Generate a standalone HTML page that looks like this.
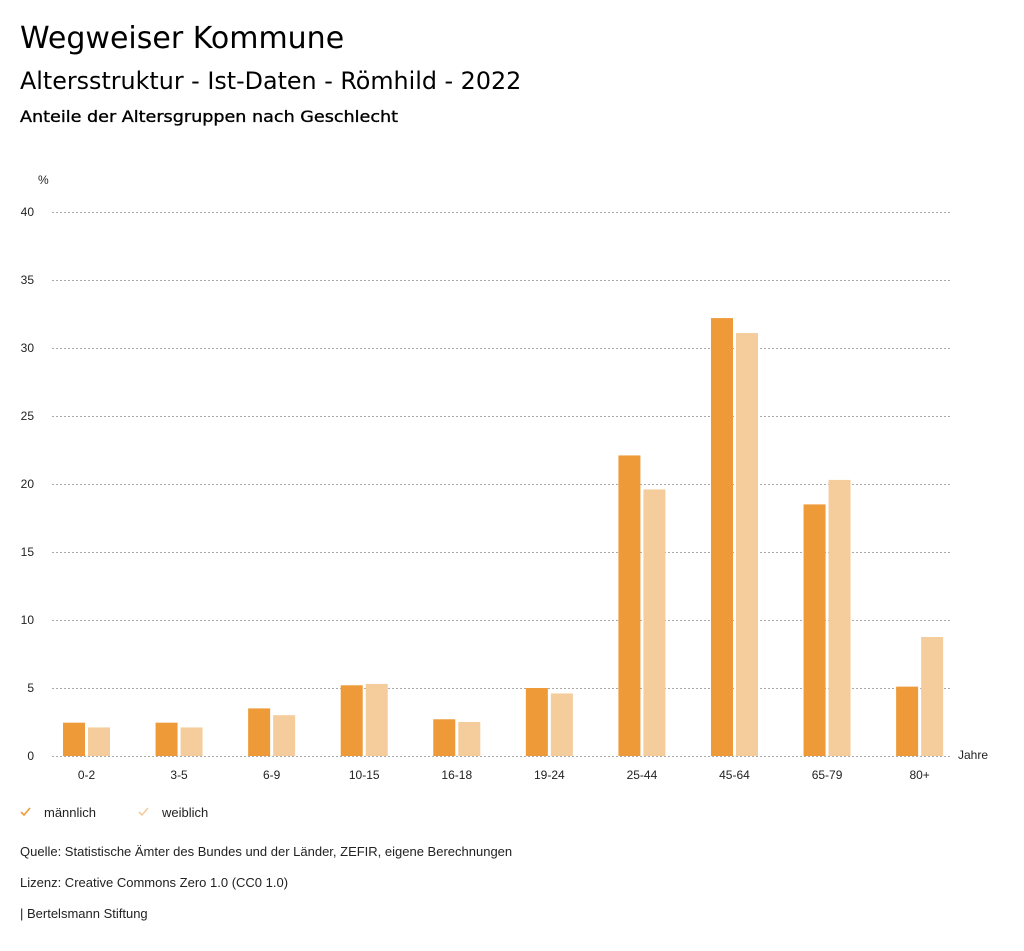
<!DOCTYPE html>
<html><head><meta charset="utf-8"><style>
body{margin:0;background:#fff;width:1024px;height:946px;overflow:hidden;font-family:"Liberation Sans","DejaVu Sans",sans-serif;}
</style></head><body>
<svg width="1024" height="946" xmlns="http://www.w3.org/2000/svg" font-family="Liberation Sans, DejaVu Sans, sans-serif">
<g font-family="DejaVu Sans, sans-serif">
<text x="20" y="48" font-size="30" fill="#000">Wegweiser Kommune</text>
<text x="20" y="89" font-size="23.8" fill="#000">Altersstruktur - Ist-Daten - Römhild - 2022</text>
<text x="20" y="122" font-size="16" fill="#000" stroke="#000" stroke-width="0.35" textLength="378" lengthAdjust="spacingAndGlyphs">Anteile der Altersgruppen nach Geschlecht</text>
</g>
<text x="38" y="184" font-size="12" fill="#222">%</text>
<g font-size="12" fill="#222" text-anchor="end">
<text x="34" y="216">40</text><text x="34" y="284">35</text><text x="34" y="352">30</text><text x="34" y="420">25</text><text x="34" y="488">20</text><text x="34" y="556">15</text><text x="34" y="624">10</text><text x="34" y="692">5</text><text x="34" y="760">0</text>
</g>
<g stroke="#aaa" stroke-width="1" stroke-dasharray="2,2">
<line x1="52" x2="952" y1="212.5" y2="212.5"/><line x1="52" x2="952" y1="280.5" y2="280.5"/><line x1="52" x2="952" y1="348.5" y2="348.5"/><line x1="52" x2="952" y1="416.5" y2="416.5"/><line x1="52" x2="952" y1="484.5" y2="484.5"/><line x1="52" x2="952" y1="552.5" y2="552.5"/><line x1="52" x2="952" y1="620.5" y2="620.5"/><line x1="52" x2="952" y1="688.5" y2="688.5"/><line x1="52" x2="952" y1="756.5" y2="756.5"/>
</g>
<g id="bars"></g>
<text x="958" y="759" font-size="12" fill="#222">Jahre</text>
<path d="M21 812 l3 3 l6 -7" stroke="#ee9a38" stroke-width="1.6" fill="none"/>
<text x="44" y="817" font-size="13" fill="#222">männlich</text>
<path d="M139 812 l3 3 l6 -7" stroke="#f5cc9b" stroke-width="1.6" fill="none"/>
<text x="162" y="817" font-size="13" fill="#222">weiblich</text>
<text x="20" y="856" font-size="13" fill="#222">Quelle: Statistische Ämter des Bundes und der Länder, ZEFIR, eigene Berechnungen</text>
<text x="20" y="887" font-size="13" fill="#222">Lizenz: Creative Commons Zero 1.0 (CC0 1.0)</text>
<text x="20" y="918" font-size="13" fill="#222">| Bertelsmann Stiftung</text>
</svg>
<script>
var labels=["0-2","3-5","6-9","10-15","16-18","19-24","25-44","45-64","65-79","80+"];
var m=[2.45,2.45,3.5,5.2,2.7,5.0,22.1,32.2,18.5,5.1];
var f=[2.1,2.1,3.0,5.3,2.5,4.6,19.6,31.1,20.3,8.75];
var g=document.getElementById("bars"),s="";
for(var i=0;i<10;i++){var c=86.5+i*92.57;
var hm=m[i]*13.6,hf=f[i]*13.6;
s+='<rect x="'+(c-23.5)+'" y="'+(756-hm)+'" width="22" height="'+hm+'" fill="#ee9a38"/>';
s+='<rect x="'+(c+1.5)+'" y="'+(756-hf)+'" width="22" height="'+hf+'" fill="#f5cc9b"/>';
s+='<text x="'+c+'" y="779" font-size="12" fill="#222" text-anchor="middle">'+labels[i]+'</text>';}
g.innerHTML=s;
</script>
</body></html>
